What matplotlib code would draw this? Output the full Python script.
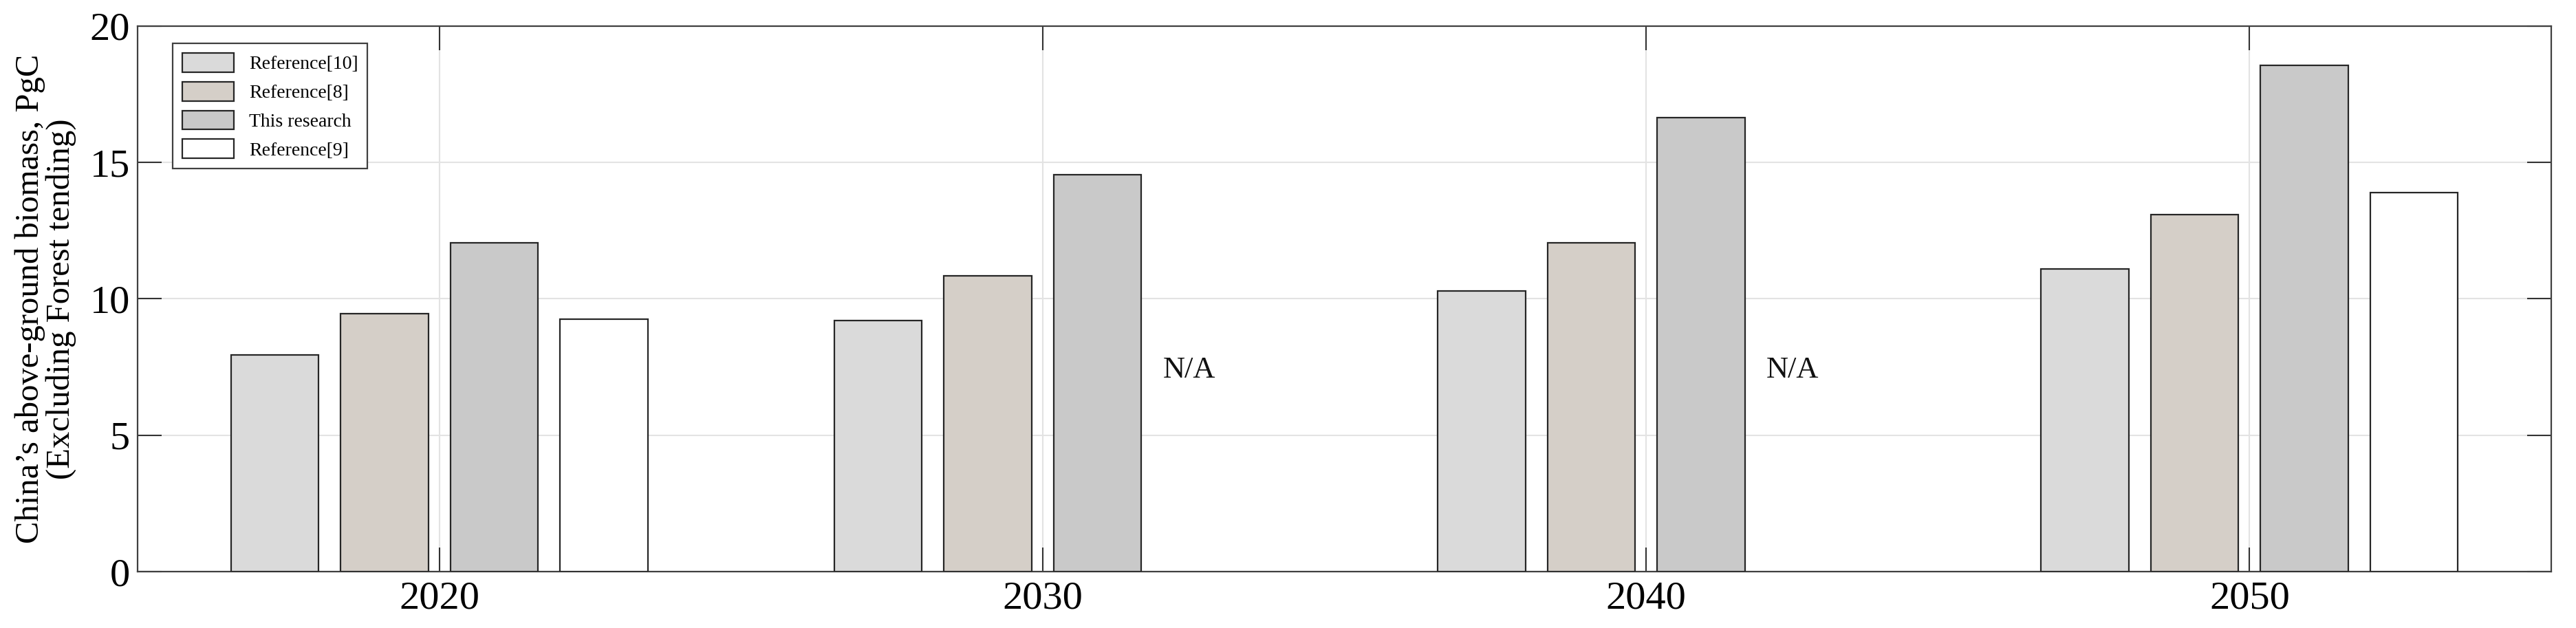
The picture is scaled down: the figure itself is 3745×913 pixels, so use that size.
import numpy as np
import matplotlib
matplotlib.use("Agg")
import matplotlib.pyplot as plt
from matplotlib.patches import Patch

plt.rcParams['font.family'] = ['Liberation Serif', 'DejaVu Serif']

# ---- data ----
years = ['2020', '2030', '2040', '2050']
series_names = ['Reference[10]', 'Reference[8]', 'This research', 'Reference[9]']
ref10 = [7.95, 9.2, 10.3, 11.1]
ref8 = [9.45, 10.85, 12.05, 13.1]
this_research = [12.05, 14.55, 16.65, 18.55]
ref9 = [9.25, np.nan, np.nan, 13.9]
series_colors = ['#dadada', '#d5cfc8', '#c9c9c9', '#ffffff']
na_label = 'N/A'
ylabel = 'China\u2019s above-ground biomass, PgC\n(Excluding Forest tending)'
yticks = [0, 5, 10, 15, 20]

values = [ref10, ref8, this_research, ref9]

fig = plt.figure(figsize=(37.45, 9.13), dpi=100)
ax = fig.add_axes([0.0534, 0.0898, 0.9370, 0.8686])

x = np.arange(1, len(years) + 1)
n = len(values)
group_w = min(0.8, n / (n + 1.5))
step = group_w / n
bar_w = 0.8 * step
offsets = (np.arange(n) - (n - 1) / 2) * step

handles = []
for i, (vals, col, name) in enumerate(zip(values, series_colors, series_names)):
    ax.bar(x + offsets[i], vals, width=bar_w, color=col, edgecolor='#262626',
           linewidth=1.6, zorder=3)
    handles.append(Patch(facecolor=col, edgecolor='#262626', linewidth=1.6, label=name))
    for xi, v in zip(x, vals):
        if np.isnan(v):
            ax.text(xi + offsets[i] - 0.03, 7.4, na_label, fontsize=32,
                    ha='center', va='center', color='#111111', zorder=4)

ax.set_xlim(0.5, len(years) + 0.5)
ax.set_ylim(0, 20)
ax.set_xticks(x)
ax.set_xticklabels(years)
ax.set_yticks(yticks)
ax.tick_params(axis='both', direction='in', top=True, right=True, length=25,
               width=1.5, color='#333333', labelsize=42)
ax.tick_params(axis='x', pad=10)
ax.tick_params(axis='y', pad=8)
ax.grid(True, color='#e3e3e3', linewidth=1.5, zorder=0)
ax.set_axisbelow(True)
for s in ax.spines.values():
    s.set_color('#404040')
    s.set_linewidth(1.6)

ax.set_ylabel(ylabel, fontsize=35, linespacing=1.0, labelpad=14)

leg = ax.legend(handles=handles, loc='upper left', bbox_to_anchor=(0.0145, 0.968),
                borderaxespad=0, fontsize=20, frameon=True, fancybox=False,
                handlelength=2.7, handleheight=1.15, labelspacing=0.45,
                handletextpad=0.8, borderpad=0.5)
leg.get_frame().set_edgecolor('#404040')
leg.get_frame().set_linewidth(1.6)
leg.get_frame().set_alpha(1)

fig.savefig('out.png', dpi=100)
